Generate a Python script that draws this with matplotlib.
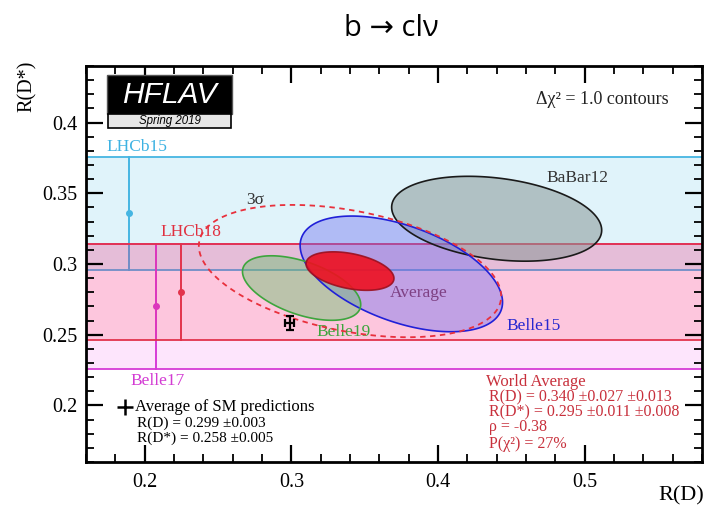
import numpy as np
import matplotlib
matplotlib.use("Agg")
import matplotlib.pyplot as plt
from matplotlib.patches import Rectangle, Polygon
from matplotlib.ticker import MultipleLocator, FuncFormatter

# ---- measurements (R(D), R(D*)) with total uncertainties and correlation ----
ell_names = ["BaBar12", "Belle15", "Belle19"]
ell_rd = [0.440, 0.375, 0.307]
ell_rd_err = [0.0716, 0.0690, 0.0403]
ell_rds = [0.332, 0.293, 0.283]
ell_rds_err = [0.0300, 0.0409, 0.0228]
ell_corr = [-0.27, -0.49, -0.51]

# R(D*)-only measurements: central value, total error, x position of the bar
band_names = ["LHCb15", "LHCb18", "Belle17"]
band_rds = [0.336, 0.280, 0.270]
band_err = [0.040, 0.034, 0.044]
band_xpos = [0.189, 0.225, 0.208]

# world average
avg_rd, avg_rd_stat, avg_rd_syst = 0.340, 0.027, 0.013
avg_rds, avg_rds_stat, avg_rds_syst = 0.295, 0.011, 0.008
avg_rho = -0.38
avg_prob = 27

# SM prediction
sm_rd, sm_rd_err = 0.299, 0.003
sm_rds, sm_rds_err = 0.258, 0.005

xticks = [0.2, 0.3, 0.4, 0.5]
yticks = [0.2, 0.25, 0.3, 0.35, 0.4]

SERIF = ["Liberation Serif", "DejaVu Serif"]
plt.rcParams["font.family"] = SERIF


def contour(cx, cy, sx, sy, rho, dchi2=1.0, n=400):
    t = np.linspace(0, 2 * np.pi, n)
    k = np.sqrt(dchi2)
    x = cx + k * sx * np.cos(t)
    y = cy + k * sy * (rho * np.cos(t) + np.sqrt(1 - rho ** 2) * np.sin(t))
    return np.column_stack([x, y])


fig = plt.figure(figsize=(7.08, 5.08), dpi=100)
ax = fig.add_axes([86 / 708, 1 - 462 / 508, 616 / 708, 396 / 508])
ax.set_xlim(0.16, 0.58)
ax.set_ylim(0.16, 0.44)

# ---- horizontal bands (LHCb15, then Belle17, then LHCb18 on top) ----
band_line = ["#45B5E2", "#E2334C", "#D63CD6"]
band_fill = [("#3FB6E6", 0.16), ("#FF0D22", 0.14), ("#F21AE6", 0.11)]
for z, i in enumerate([0, 2, 1]):
    lo, hi = band_rds[i] - band_err[i], band_rds[i] + band_err[i]
    col, a = band_fill[i]
    base = 1 + 0.1 * z
    ax.axhspan(lo, hi, color=col, alpha=a, lw=0, zorder=base)
    ax.axhline(lo, color=band_line[i], lw=1.3, zorder=base + 0.01)
    ax.axhline(hi, color=band_line[i], lw=1.3, zorder=base + 0.01)
    ax.plot([band_xpos[i], band_xpos[i]], [lo, hi], color=band_line[i], lw=1.4,
            zorder=base + 0.01)
    ax.plot(band_xpos[i], band_rds[i], "o", color=band_line[i], ms=4, zorder=base + 0.02)

# ---- 2D contours ----
ell_edge = ["#1A1A1A", "#2020D8", "#3DA53D"]
ell_face = [("#8A9898", 0.55), ("#6E6EF0", 0.42), ("#6CC070", 0.45)]
for i in range(3):
    pts = contour(ell_rd[i], ell_rds[i], ell_rd_err[i], ell_rds_err[i], ell_corr[i])
    col, a = ell_face[i]
    ax.add_patch(Polygon(pts, closed=True, facecolor=col, alpha=a, lw=0, zorder=4))
    ax.add_patch(Polygon(pts, closed=True, fill=False, edgecolor=ell_edge[i], lw=1.2, zorder=5))

avg_sx = np.hypot(avg_rd_stat, avg_rd_syst)
avg_sy = np.hypot(avg_rds_stat, avg_rds_syst)
pts = contour(avg_rd, avg_rds, avg_sx, avg_sy, avg_rho)
ax.add_patch(Polygon(pts, closed=True, facecolor="#EE1020", alpha=0.9,
                     edgecolor="#9A1020", lw=1.2, zorder=6))

# 3 sigma contour of the average
pts3 = contour(avg_rd, avg_rds, avg_sx, avg_sy, avg_rho, dchi2=11.83)
ax.plot(pts3[:, 0], pts3[:, 1], color="#E8303C", lw=1.3, ls=(0, (3, 2.5)), zorder=7)

# SM point
ax.errorbar(sm_rd, sm_rds, xerr=sm_rd_err, yerr=sm_rds_err, fmt="none",
            ecolor="black", elinewidth=1.6, capsize=3, capthick=1.6, zorder=8)

# ---- labels ----
fs = 12.5
ax.text(0.174, 0.383, "LHCb15", color="#3DB2E2", fontsize=fs, va="center")
ax.text(0.2105, 0.3225, "LHCb18", color="#E03040", fontsize=fs, va="center")
ax.text(0.190, 0.217, "Belle17", color="#D33CD3", fontsize=fs, va="center")
ax.text(0.269, 0.345, "3σ", color="#333333", fontsize=fs, va="center")
ax.text(0.4948, 0.361, "BaBar12", color="#333333", fontsize=fs, va="center", ha="center")
ax.text(0.3673, 0.2794, "Average", color="#8A2035", fontsize=fs, va="center")
ax.text(0.4464, 0.256, "Belle15", color="#2828D0", fontsize=fs, va="center")
ax.text(0.3168, 0.252, "Belle19", color="#3DA53D", fontsize=fs, va="center")
ax.text(0.557, 0.416, "Δχ² = 1.0 contours", color="#222222", fontsize=13,
        va="center", ha="right")

# SM legend
ax.plot(0.1864, 0.1986, marker="+", color="black", ms=12, mew=1.8, zorder=8)
ax.text(0.1933, 0.1986, "Average of SM predictions", fontsize=12, va="center")
ax.text(0.1946, 0.1875, f"R(D) = {sm_rd:.3f} ±{sm_rd_err:.3f}", fontsize=11, va="center")
ax.text(0.1946, 0.1768, f"R(D*) = {sm_rds:.3f} ±{sm_rds_err:.3f}", fontsize=11, va="center")

# world average block
wc = "#C8303C"
ax.text(0.4329, 0.2163, "World Average", color=wc, fontsize=12, va="center")
ax.text(0.435, 0.2057, f"R(D) = {avg_rd:.3f} ±{avg_rd_stat:.3f} ±{avg_rd_syst:.3f}",
        color=wc, fontsize=11.5, va="center")
ax.text(0.435, 0.1950, f"R(D*) = {avg_rds:.3f} ±{avg_rds_stat:.3f} ±{avg_rds_syst:.3f}",
        color=wc, fontsize=11.5, va="center")
ax.text(0.435, 0.1846, f"ρ = {avg_rho:.2f}", color=wc, fontsize=11.5, va="center")
ax.text(0.435, 0.1728, f"P(χ²) = {avg_prob}%", color=wc, fontsize=11.5, va="center")

# ---- HFLAV logo ----
ax.add_patch(Rectangle((0.034, 0.879), 0.203, 0.098, transform=ax.transAxes,
                       facecolor="black", edgecolor="#555555", lw=1, zorder=9))
ax.add_patch(Rectangle((0.036, 0.843), 0.199, 0.036, transform=ax.transAxes,
                       facecolor="#E6E6E6", edgecolor="black", lw=1.2, zorder=9))
ax.text(0.1355, 0.928, "HFLAV", transform=ax.transAxes, color="white",
        fontsize=21.5, style="italic", family=["Liberation Sans", "DejaVu Sans"],
        ha="center", va="center", zorder=10)
ax.text(0.1355, 0.860, "Spring 2019", transform=ax.transAxes, color="black",
        fontsize=8.3, style="italic", family=["Liberation Sans", "DejaVu Sans"],
        ha="center", va="center", zorder=10)

# ---- axes ----
ax.xaxis.set_major_locator(MultipleLocator(0.1))
ax.xaxis.set_minor_locator(MultipleLocator(0.02))
ax.yaxis.set_major_locator(MultipleLocator(0.05))
ax.yaxis.set_minor_locator(MultipleLocator(0.01))
ax.set_xticks(xticks)
ax.set_yticks(yticks)
fmt = FuncFormatter(lambda v, p: f"{v:g}")
ax.xaxis.set_major_formatter(fmt)
ax.yaxis.set_major_formatter(fmt)
ax.tick_params(which="both", direction="in", top=True, right=True, labelsize=14.5)
ax.tick_params(which="major", length=12, width=1.6)
ax.tick_params(which="minor", length=6, width=1.3)
ax.tick_params(axis="x", pad=8)
ax.tick_params(axis="y", pad=6)
for s in ax.spines.values():
    s.set_linewidth(2)

fig.text(27 / 708, 1 - 86 / 508, "R(D*)", rotation=90, fontsize=14.5,
         ha="center", va="center")
fig.text(704 / 708, 1 - 496 / 508, "R(D)", fontsize=16, ha="right", va="center")
fig.text(0.553, 1 - 29 / 508, "b → clν", fontsize=21,
         family=["Open Sans", "DejaVu Sans"], ha="center", va="center")

fig.savefig("out.png", dpi=100)
